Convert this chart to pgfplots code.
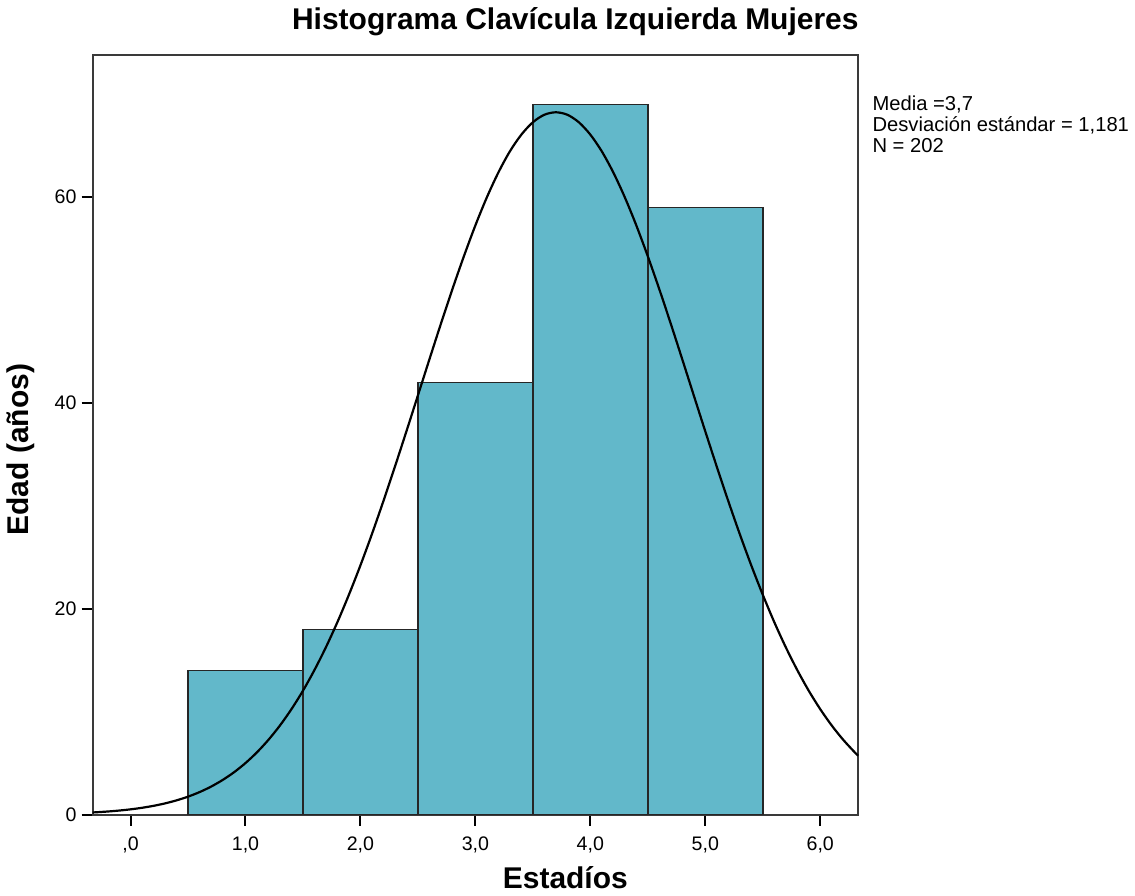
\documentclass[border=0pt]{standalone}
\usepackage{pgfplots}
\pgfplotsset{compat=1.18}
\usepackage{fontspec}
\setmainfont{Liberation Sans}
\definecolor{barfill}{HTML}{62B8CA}
\definecolor{axisgray}{HTML}{3A3A3A}

\begin{document}
\begin{tikzpicture}
\begin{axis}[
  at={(0,0)}, anchor=south west,
  scale only axis, width=383pt, height=380pt,
  xmin=-0.33, xmax=6.33, ymin=0, ymax=73.8,
  axis line style={axisgray, line width=1pt},
  xtick={0,1,2,3,4,5,6},
  xticklabels={{,0},{1,0},{2,0},{3,0},{4,0},{5,0},{6,0}},
  ytick={0,20,40,60},
  tick align=outside, major tick length=5.5pt,
  tick style={black, line width=1pt},
  xtick pos=bottom, ytick pos=left,
  tick label style={font=\fontsize{9.8}{11}\selectfont},
  /pgf/number format/assume math mode=true,
  xticklabel style={yshift=-2pt},
  yticklabel style={xshift=1pt},
  clip=false,
]
% frequencies per stage (bin width 1)
\addplot[ybar interval, fill=barfill, draw=black!85, line width=0.75pt]
  coordinates {(0.5,14) (1.5,18) (2.5,42) (3.5,69) (4.5,59) (5.5,59)};

% fitted normal curve: mean 3.7, sd 1.181, N 202
\addplot[black, line width=1.1pt, smooth] coordinates {
(-0.33,0.202) (-0.3,0.220) (-0.2,0.292) (-0.1,0.385) (0.0,0.504) (0.1,0.655)
(0.2,0.845) (0.3,1.082) (0.4,1.376) (0.5,1.737) (0.6,2.177) (0.7,2.709)
(0.8,3.348) (0.9,4.105) (1.0,5.001) (1.1,6.047) (1.2,7.261) (1.3,8.653)
(1.4,10.24) (1.5,12.03) (1.6,14.04) (1.7,16.26) (1.8,18.70) (1.9,21.36)
(2.0,24.21) (2.1,27.25) (2.2,30.46) (2.3,33.80) (2.4,37.23) (2.5,40.72)
(2.6,44.22) (2.7,47.68) (2.8,51.04) (2.9,54.24) (3.0,57.24) (3.1,59.97)
(3.2,62.38) (3.3,64.43) (3.4,66.06) (3.5,67.26) (3.6,67.99) (3.7,68.23)
(3.8,67.99) (3.9,67.26) (4.0,66.06) (4.1,64.43) (4.2,62.38) (4.3,59.97)
(4.4,57.24) (4.5,54.24) (4.6,51.04) (4.7,47.68) (4.8,44.22) (4.9,40.72)
(5.0,37.23) (5.1,33.80) (5.2,30.46) (5.3,27.25) (5.4,24.21) (5.5,21.36)
(5.6,18.70) (5.7,16.26) (5.8,14.04) (5.9,12.03) (6.0,10.24) (6.1,8.653)
(6.2,7.261) (6.3,6.047) (6.33,5.716)
};
\end{axis}

% titles and summary
\node[font=\bfseries\fontsize{15}{17}\selectfont] at (241.5pt,396.5pt)
  {Histograma Clavícula Izquierda Mujeres};
\node[font=\bfseries\fontsize{15}{17}\selectfont, rotate=90] at (-36pt,182.5pt)
  {Edad (años)};
\node[font=\bfseries\fontsize{15}{17}\selectfont] at (236.5pt,-31.5pt)
  {Estadíos};
\node[anchor=north west, align=left, inner sep=0pt,
      font=\fontsize{10.1}{10.3}\selectfont] at (390pt,359.5pt)
  {Media =3,7\\Desviación estándar = 1,181\\N = 202};

\useasboundingbox (-46pt,-40pt) rectangle (521.5pt,407.5pt);
\end{tikzpicture}
\end{document}
